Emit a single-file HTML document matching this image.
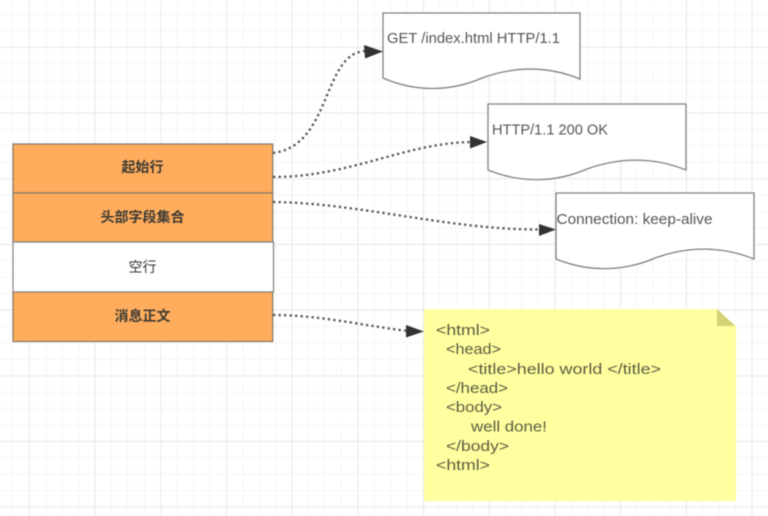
<!DOCTYPE html>
<html lang="zh">
<head>
<meta charset="utf-8">
<style>
html,body{margin:0;padding:0;background:#fff}
svg{display:block;filter:blur(.5px)}
.d{font-family:"Liberation Sans","Noto Sans CJK SC",sans-serif;font-size:15px;fill:#555}
.c{font-family:"Liberation Sans","Noto Sans CJK SC",sans-serif;font-size:14px;font-weight:700;fill:#3d3a33;text-anchor:middle}
.n{font-family:"Liberation Sans","Noto Sans CJK SC",sans-serif;font-size:15px;fill:#5c5c40}
.doc{fill:#fff;stroke:#808080;stroke-width:1.3}
.dot{fill:none;stroke:#555;stroke-width:2.3;stroke-dasharray:2.3 3.2}
.row{stroke:#7f7768;stroke-width:1.2}
</style>
</head>
<body>
<svg width="768" height="516" viewBox="0 0 768 516" xmlns="http://www.w3.org/2000/svg">
<defs>
<pattern id="minor" x="12.7" y="14.2" width="16.42" height="16.42" patternUnits="userSpaceOnUse">
<path d="M0 0V16.42M0 0H16.42" fill="none" stroke="#ececec" stroke-width="1"/>
</pattern>
<pattern id="major" x="29" y="47" width="65.7" height="65.7" patternUnits="userSpaceOnUse">
<path d="M0 0V65.7M0 0H65.7" fill="none" stroke="#e0e0e0" stroke-width="1.3"/>
</pattern>
</defs>
<rect width="768" height="516" fill="#fff"/>
<rect width="768" height="516" fill="url(#minor)"/>
<rect width="768" height="516" fill="url(#major)"/>

<path class="doc" d="M383 13H580V79C548 66 515 66 482 78C450 92 415 92 383 78Z"/>
<path class="doc" d="M488 104H686V170C654 157 620 157 587 169C555 183 520 183 488 170Z"/>
<path class="doc" d="M556 193H754V259C722 246 688 246 655 258C623 272 588 272 556 259Z"/>
<text class="d" x="387" y="43" textLength="173" lengthAdjust="spacingAndGlyphs">GET /index.html HTTP/1.1</text>
<text class="d" x="492" y="134.5" textLength="116" lengthAdjust="spacingAndGlyphs">HTTP/1.1 200 OK</text>
<text class="d" x="556.5" y="224" textLength="156" lengthAdjust="spacingAndGlyphs">Connection: keep-alive</text>

<rect class="row" x="13" y="144" width="259.7" height="49" fill="#ffad5c"/>
<rect class="row" x="13" y="193" width="259.7" height="49" fill="#ffad5c"/>
<rect class="row" x="13" y="292" width="259.7" height="49.5" fill="#ffad5c"/>
<rect x="13" y="242" width="260.5" height="50" fill="#fff" stroke="#808080" stroke-width="1.2"/>
<text class="c" x="142.5" y="172">起始行</text>
<text class="c" x="142.5" y="222">头部字段集合</text>
<text class="c" x="142.5" y="272" style="font-weight:400;fill:#333">空行</text>
<text class="c" x="142.5" y="321">消息正文</text>

<path class="dot" d="M273 153C332 146 322 52 366 51"/>
<path class="dot" d="M273 177C350 177 405 143 471 142"/>
<path class="dot" d="M273 202C360 203 450 230 540 229.5"/>
<path class="dot" d="M273 315C320 315 365 326 408 331"/>
<path d="M364 45L383 51.5L365 58.5Z" fill="#333"/>
<path d="M470 136L487 142L470 148.5Z" fill="#333"/>
<path d="M539 224L556 229.5L539 236Z" fill="#333"/>
<path d="M406 325L424 331.5L406 337.5Z" fill="#333"/>

<path d="M424 309H717L736 326V501H424Z" fill="#ffffa0"/>
<path d="M717 309L735 326H717Z" fill="#d2d276"/>
<text class="n" x="436" y="335" textLength="54" lengthAdjust="spacingAndGlyphs">&lt;html&gt;</text>
<text class="n" x="446" y="354" textLength="55" lengthAdjust="spacingAndGlyphs">&lt;head&gt;</text>
<text class="n" x="468" y="374" textLength="193" lengthAdjust="spacingAndGlyphs">&lt;title&gt;hello world &lt;/title&gt;</text>
<text class="n" x="446" y="393" textLength="62" lengthAdjust="spacingAndGlyphs">&lt;/head&gt;</text>
<text class="n" x="446" y="412" textLength="56" lengthAdjust="spacingAndGlyphs">&lt;body&gt;</text>
<text class="n" x="471" y="431.5" textLength="76" lengthAdjust="spacingAndGlyphs">well done!</text>
<text class="n" x="446" y="451" textLength="63" lengthAdjust="spacingAndGlyphs">&lt;/body&gt;</text>
<text class="n" x="436" y="470" textLength="54" lengthAdjust="spacingAndGlyphs">&lt;html&gt;</text>
</svg>
</body>
</html>
